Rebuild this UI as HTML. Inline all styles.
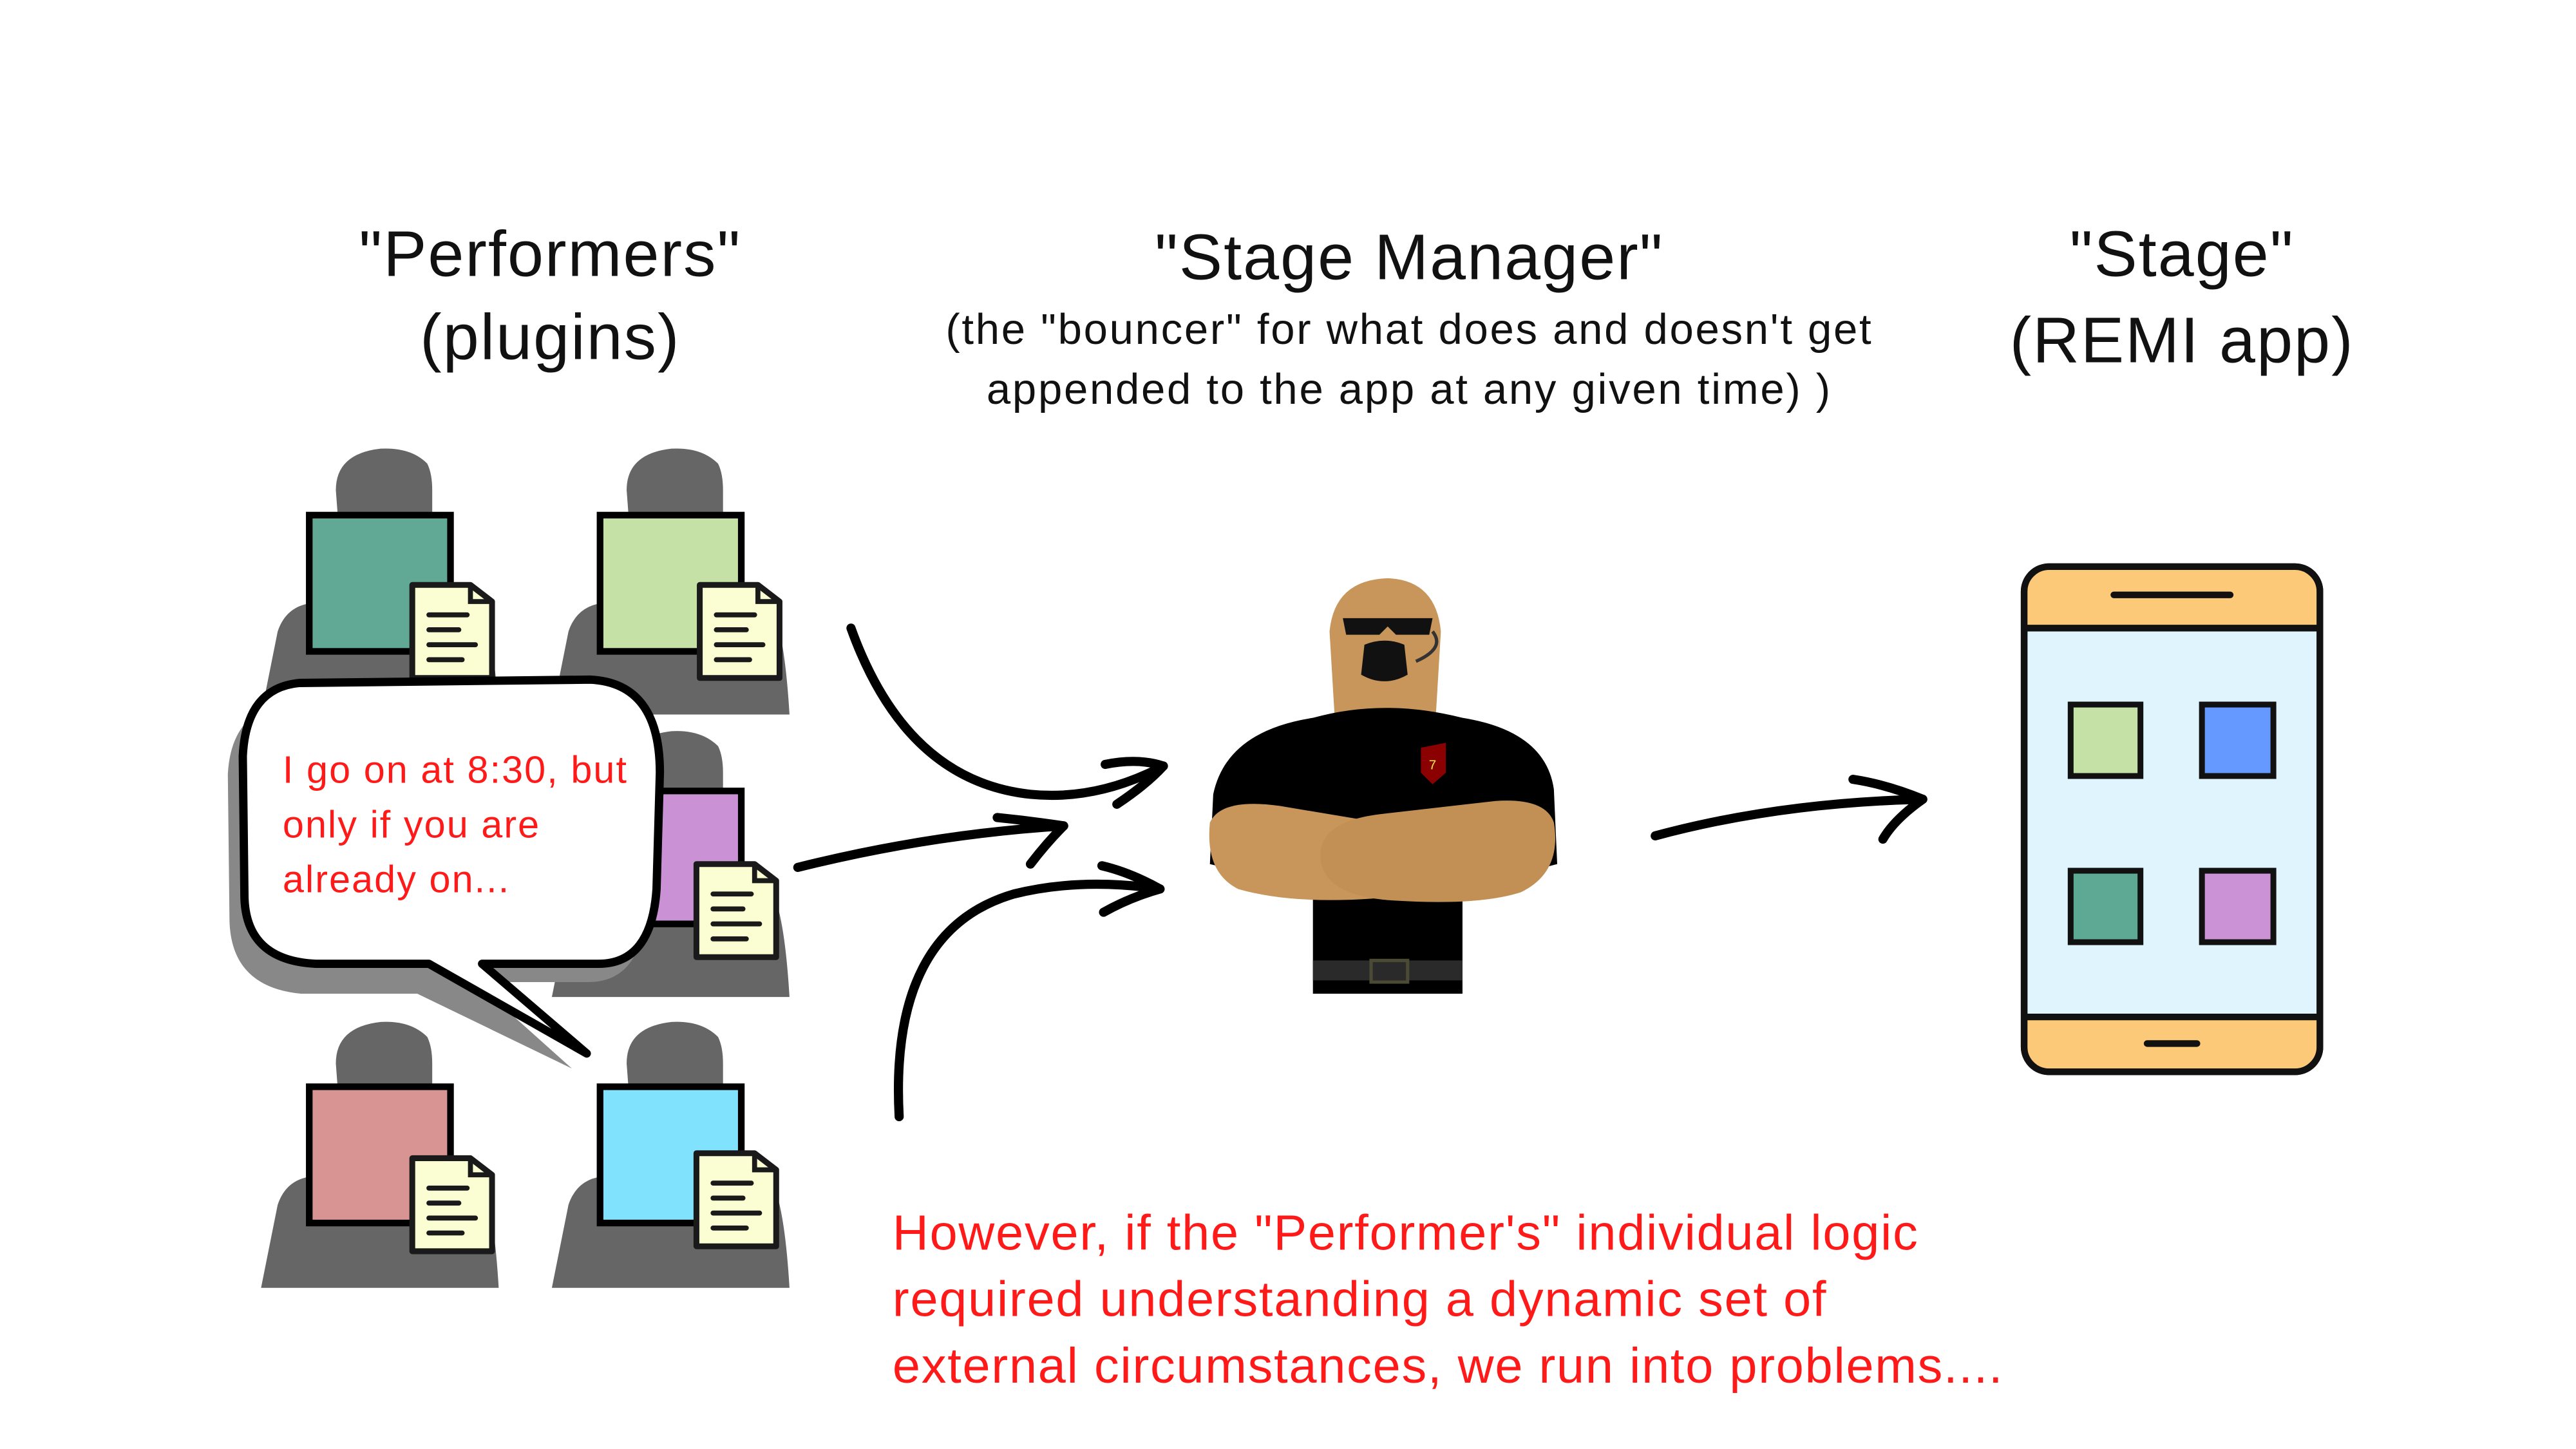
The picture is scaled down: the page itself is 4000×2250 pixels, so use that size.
<!DOCTYPE html>
<html><head><meta charset="utf-8"><style>
html,body{margin:0;padding:0;background:#fff;}
svg{display:block;}
text{font-family:"Liberation Sans",sans-serif;}
</style></head><body>
<svg width="4000" height="2250" viewBox="0 0 1550 872" xmlns="http://www.w3.org/2000/svg">
<rect width="1550" height="872" fill="#fff"/>
<defs>
<g id="person">
  <path d="M45,-40 Q45,-62 72,-65 Q90,-66 100,-56 Q103,-50 103,-40 L103,0 L48,0 Z" fill="#666"/>
  <path d="M0,95 L10,45 Q15,30 30,28 L48,24 L103,24 L132,30 Q140,45 143,95 Z" fill="#666"/>
</g>
<g id="doc">
  <path d="M0,0 L35,0 L48,10 L48,56 L0,56 Z" fill="#fbfdd2" stroke="#1a1a1a" stroke-width="3.5" stroke-linejoin="round"/>
  <path d="M35,0 L35,10 L48,10" fill="none" stroke="#1a1a1a" stroke-width="3"/>
  <g stroke="#1a1a1a" stroke-width="3" stroke-linecap="round">
    <line x1="10" y1="18" x2="33" y2="18"/><line x1="10" y1="27" x2="28" y2="27"/>
    <line x1="10" y1="36" x2="38" y2="36"/><line x1="10" y1="45" x2="30" y2="45"/>
  </g>
</g>
</defs>

<!-- titles -->
<g font-size="39" text-anchor="middle" fill="#111" letter-spacing="0.8">
<text x="331" y="166">"Performers"</text>
<text x="331" y="216">(plugins)</text>
<text x="848" y="168">"Stage Manager"</text>
<text x="1313" y="166">"Stage"</text>
<text x="1313" y="218">(REMI app)</text>
</g>
<g font-size="26" text-anchor="middle" fill="#111" letter-spacing="1.05">
<text x="848" y="207">(the "bouncer" for what does and doesn't get</text>
<text x="848" y="243">appended to the app at any given time) )</text>
</g>

<!-- performers -->
<g transform="translate(157,335)"><use href="#person"/></g>
<rect x="186" y="310" width="85" height="82" fill="#61a995" stroke="#000" stroke-width="4"/>
<g transform="translate(248,352)"><use href="#doc"/></g>

<g transform="translate(332,335)"><use href="#person"/></g>
<rect x="361" y="310" width="85" height="82" fill="#c5e1a5" stroke="#000" stroke-width="4"/>
<g transform="translate(421,352)"><use href="#doc"/></g>

<g transform="translate(332,505)"><use href="#person"/></g>
<rect x="361" y="476" width="85" height="80" fill="#ca92d5" stroke="#000" stroke-width="4"/>
<g transform="translate(419,520)"><use href="#doc"/></g>

<g transform="translate(157,680)"><use href="#person"/></g>
<rect x="186" y="654" width="85" height="82" fill="#d89393" stroke="#000" stroke-width="4"/>
<g transform="translate(248,697)"><use href="#doc"/></g>

<g transform="translate(332,680)"><use href="#person"/></g>
<rect x="361" y="654" width="85" height="82" fill="#80e2fc" stroke="#000" stroke-width="4"/>
<g transform="translate(419,694)"><use href="#doc"/></g>

<!-- speech bubble -->
<path d="M180,416 L355,414 Q395,416 395,470 L393,540 Q390,585 358,585 L290,585 L348,637 L255,592 L185,592 Q143,588 142,548 L141,460 Q143,420 180,416 Z" fill="#888" transform="translate(-4,6)"/>
<path d="M180,411 L355,409 Q397,411 397,465 L395,535 Q392,580 360,580 L290,580 L353,634 L258,580 L190,580 Q148,578 147,540 L146,455 Q148,414 180,411 Z" fill="#fff" stroke="#000" stroke-width="5" stroke-linejoin="round"/>
<g font-size="23" fill="#ff1a1a" letter-spacing="0.8">
<text x="170" y="471">I go on at 8:30, but</text>
<text x="170" y="504">only if you are</text>
<text x="170" y="537">already on...</text>
</g>

<!-- arrows -->
<g fill="none" stroke="#000" stroke-width="5.5" stroke-linecap="round" stroke-linejoin="round">
<path d="M512,378 Q545,470 620,478 Q660,482 700,461"/>
<path d="M665,460 Q685,456 700,461 Q690,472 672,484"/>
<path d="M480,522 Q560,502 640,497"/>
<path d="M600,492 Q620,494 640,497 Q630,507 620,520"/>
<path d="M541,672 Q535,560 610,538 Q650,528 698,535"/>
<path d="M663,521 Q680,525 698,535 Q680,540 664,549"/>
<path d="M996,503 Q1070,483 1157,481"/>
<path d="M1115,469 Q1135,472 1157,481 Q1140,493 1133,505"/>
</g>

<!-- bouncer -->
<g>
<path d="M803,430 L800,380 Q803,349 835,348 Q864,349 867,380 L864,430 Z" fill="#c8955b"/>
<path d="M808,372 L862,372 L860,382 L840,382 L835,377 L830,382 L810,382 Z" fill="#111"/>
<path d="M821,388 Q833,383 845,388 L847,406 Q833,414 819,406 Z" fill="#111"/>
<path d="M862,380 Q870,390 852,398" fill="none" stroke="#333" stroke-width="2"/>
<path d="M790,432 Q833,420 880,432 Q930,440 935,475 L937,520 L880,535 L880,598 L790,598 L790,535 L728,520 L730,478 Q738,440 790,432 Z" fill="#000"/>
<path d="M855,450 L870,447 L870,465 L862,472 L855,465 Z" fill="#8b0000"/>
<text x="862" y="463" font-size="8" fill="#ee4" text-anchor="middle">7</text>
<path d="M728,495 Q735,480 770,485 L860,500 Q880,505 870,525 L835,540 Q780,545 745,535 Q725,525 728,495 Z" fill="#c8955b"/>
<path d="M935,495 Q930,480 900,482 L830,490 Q790,495 795,520 Q800,540 840,542 Q890,545 915,537 Q940,525 935,495 Z" fill="#c29055"/>
<path d="M790,578 L880,578 L880,590 L790,590 Z" fill="#2a2a2a"/>
<rect x="825" y="578" width="22" height="13" fill="none" stroke="#4a4a35" stroke-width="2"/>
</g>

<!-- phone -->
<rect x="1218" y="341" width="178" height="304" rx="15" fill="#e0f4fd" stroke="#111" stroke-width="4"/>
<path d="M1233,343 L1381,343 Q1394,343 1394,356 L1394,377 L1220,377 L1220,356 Q1220,343 1233,343 Z" fill="#fcc978"/>
<path d="M1220,613 L1394,613 L1394,630 Q1394,643 1381,643 L1233,643 Q1220,643 1220,630 Z" fill="#fcc978"/>
<rect x="1218" y="341" width="178" height="304" rx="15" fill="none" stroke="#111" stroke-width="4"/>
<line x1="1218" y1="378" x2="1396" y2="378" stroke="#111" stroke-width="4"/>
<line x1="1218" y1="612" x2="1396" y2="612" stroke="#111" stroke-width="4"/>
<line x1="1272" y1="358" x2="1342" y2="358" stroke="#111" stroke-width="4" stroke-linecap="round"/>
<line x1="1292" y1="628" x2="1322" y2="628" stroke="#111" stroke-width="4" stroke-linecap="round"/>
<rect x="1246" y="424" width="42" height="43" fill="#c5e1a5" stroke="#111" stroke-width="3.5"/>
<rect x="1325" y="424" width="43" height="43" fill="#6699ff" stroke="#111" stroke-width="3.5"/>
<rect x="1246" y="524" width="42" height="43" fill="#5ea994" stroke="#111" stroke-width="3.5"/>
<rect x="1325" y="524" width="43" height="43" fill="#cc92d6" stroke="#111" stroke-width="3.5"/>

<!-- bottom text -->
<g font-size="30" fill="#ff1a1a" letter-spacing="0.7">
<text x="537" y="752">However, if the "Performer's" individual logic</text>
<text x="537" y="792">required understanding a dynamic set of</text>
<text x="537" y="832">external circumstances, we run into problems....</text>
</g>
</svg>
</body></html>
